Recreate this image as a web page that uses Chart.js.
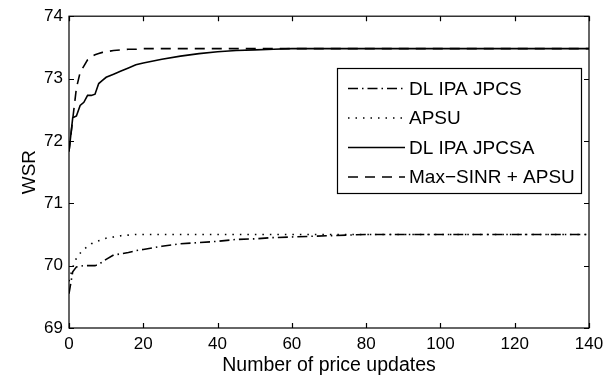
<!DOCTYPE html>
<html>
<head>
<meta charset="utf-8">
<script src="https://cdn.jsdelivr.net/npm/chart.js@4/dist/chart.umd.min.js"></script>
<style>
  html, body { margin: 0; padding: 0; background: #fff; }
  #c { display: block; }
</style>
</head>
<body>
<canvas id="c" width="616" height="380"></canvas>
<script>
// ---- Data ----
const xValues = [0,1,2,3,4,5,6,7,8,9,10,12,14,16,18,20,25,30,35,40,45,50,55,60,70,80,90,100,120,140];

const seriesNames = ['DL IPA JPCS', 'APSU', 'DL IPA JPCSA', 'Max\u2212SINR + APSU'];

const jpcsValues   = [69.55,69.90,69.98,69.99,70.00,70.00,70.00,70.00,70.02,70.06,70.10,70.17,70.19,70.21,70.24,70.26,70.31,70.35,70.37,70.39,70.42,70.43,70.45,70.46,70.48,70.50,70.50,70.50,70.50,70.50];
const apsuValues   = [69.75,69.97,70.12,70.20,70.26,70.31,70.35,70.38,70.40,70.42,70.44,70.46,70.48,70.49,70.50,70.50,70.50,70.50,70.50,70.50,70.50,70.50,70.50,70.50,70.50,70.50,70.50,70.50,70.50,70.50];
const jpcsaValues  = [71.83,72.37,72.40,72.57,72.62,72.73,72.73,72.75,72.92,72.97,73.02,73.07,73.12,73.17,73.22,73.25,73.31,73.36,73.40,73.43,73.45,73.46,73.47,73.48,73.48,73.48,73.48,73.48,73.48,73.48];
const maxSinrValues= [71.83,72.35,72.85,73.10,73.20,73.30,73.35,73.38,73.40,73.42,73.43,73.45,73.46,73.47,73.47,73.48,73.48,73.48,73.48,73.48,73.48,73.48,73.48,73.48,73.48,73.48,73.48,73.48,73.48,73.48];

const xTicks = [0,20,40,60,80,100,120,140];
const yTicks = [69,70,71,72,73,74];

const xTitle = 'Number of price updates';
const yTitle = 'WSR';

// ---- Build chart ----
const FONT = '"Liberation Sans", Arial, Helvetica, sans-serif';
const toPts = ys => ys.map((y, i) => ({x: xValues[i], y: y}));

const dashStyles = [
  [10, 4, 1.5, 4],  // dash-dot
  [1.5, 6],         // dotted
  [],               // solid
  [10, 7]           // dashed
];
const seriesData = [jpcsValues, apsuValues, jpcsaValues, maxSinrValues];

const datasets = seriesNames.map((name, i) => ({
  label: name,
  data: toPts(seriesData[i]),
  borderColor: '#000',
  backgroundColor: '#000',
  borderWidth: 1.6,
  borderDash: dashStyles[i],
  pointRadius: 0,
  tension: 0,
  fill: false
}));

const framePlugin = {
  id: 'frame',
  afterDatasetsDraw(chart) {
    const {ctx, chartArea: a, scales} = chart;
    ctx.save();
    ctx.strokeStyle = '#000';
    ctx.lineWidth = 1.2;
    ctx.setLineDash([]);
    ctx.strokeRect(a.left, a.top, a.right - a.left, a.bottom - a.top);
    const L = 5;
    ctx.beginPath();
    xTicks.forEach(v => {
      const px = Math.round(scales.x.getPixelForValue(v)) + 0.5;
      ctx.moveTo(px, a.bottom); ctx.lineTo(px, a.bottom - L);
      ctx.moveTo(px, a.top); ctx.lineTo(px, a.top + L);
    });
    yTicks.forEach(v => {
      const py = Math.round(scales.y.getPixelForValue(v)) + 0.5;
      ctx.moveTo(a.left, py); ctx.lineTo(a.left + L, py);
      ctx.moveTo(a.right, py); ctx.lineTo(a.right - L, py);
    });
    ctx.stroke();
    ctx.restore();
  }
};

const legendPlugin = {
  id: 'matlabLegend',
  afterDraw(chart) {
    const {ctx} = chart;
    const box = {x: 337.5, y: 68.5, w: 244, h: 125};
    ctx.save();
    ctx.fillStyle = '#fff';
    ctx.fillRect(box.x, box.y, box.w, box.h);
    ctx.strokeStyle = '#000';
    ctx.lineWidth = 1.2;
    ctx.setLineDash([]);
    ctx.strokeRect(box.x, box.y, box.w, box.h);
    ctx.font = '19px ' + FONT;
    ctx.textBaseline = 'middle';
    ctx.fillStyle = '#000';
    chart.data.datasets.forEach((ds, i) => {
      const yy = box.y + 20 + i * 29.5;
      ctx.beginPath();
      ctx.setLineDash(ds.borderDash);
      ctx.lineWidth = ds.borderWidth;
      ctx.moveTo(348, yy); ctx.lineTo(405, yy);
      ctx.stroke();
      ctx.setLineDash([]);
      ctx.fillText(ds.label, 409, yy + 1);
    });
    ctx.restore();
  }
};

new Chart(document.getElementById('c'), {
  type: 'line',
  data: { datasets },
  options: {
    responsive: false,
    animation: false,
    devicePixelRatio: 1,
    layout: { padding: { top: 15, right: 27, left: 0, bottom: 0 } },
    plugins: { legend: { display: false }, tooltip: { enabled: false } },
    scales: {
      x: {
        type: 'linear',
        min: 0, max: 140,
        afterFit: s => { s.height = 52; },
        afterBuildTicks: s => { s.ticks = xTicks.map(v => ({value: v})); },
        grid: { display: false, drawTicks: false },
        border: { display: false },
        ticks: { color: '#000', font: { family: FONT, size: 17 }, padding: 6, maxRotation: 0 },
        title: { display: true, text: xTitle, color: '#000', font: { family: FONT, size: 19.5 }, padding: { top: 0, bottom: 3 } }
      },
      y: {
        type: 'linear',
        min: 69, max: 74,
        afterFit: s => { s.width = 69; },
        afterBuildTicks: s => { s.ticks = yTicks.map(v => ({value: v})); },
        grid: { display: false, drawTicks: false },
        border: { display: false },
        ticks: { color: '#000', font: { family: FONT, size: 17 }, padding: 6 },
        title: { display: true, text: yTitle, color: '#000', font: { family: FONT, size: 19 }, padding: { top: 18, bottom: 0 } }
      }
    }
  },
  plugins: [framePlugin, legendPlugin]
});
</script>
</body>
</html>
